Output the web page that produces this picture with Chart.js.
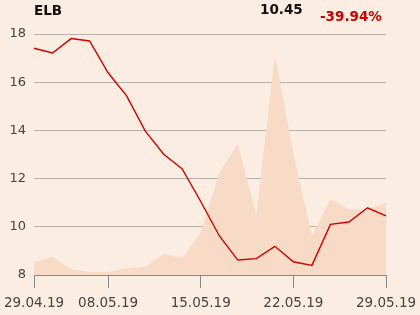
<!DOCTYPE html>
<html>
<head>
<meta charset="utf-8">
<script src="https://cdn.jsdelivr.net/npm/chart.js@4"></script>
<style>
  html, body { margin: 0; padding: 0; background: #fbede1; }
  #wrap { position: relative; width: 420px; height: 315px; }
  .hd { position: absolute; font-family: "DejaVu Sans", sans-serif; font-weight: bold; font-size: 13.5px; line-height: 14px; white-space: nowrap; }
</style>
</head>
<body>
<div id="wrap">
  <canvas id="chart" width="420" height="315"></canvas>
  <div class="hd" style="left:34px; top:3px; color:#111;">ELB</div>
  <div class="hd" style="left:260px; top:2px; color:#111;">10.45</div>
  <div class="hd" style="left:320px; top:9px; color:#cc0000;">-39.94%</div>
</div>
<script>
const dates = ['29.04.19', '30.04.19', '02.05.19', '06.05.19', '08.05.19', '09.05.19', '10.05.19',
    '13.05.19', '14.05.19', '15.05.19', '16.05.19', '17.05.19', '20.05.19', '21.05.19',
    '22.05.19', '23.05.19', '24.05.19', '27.05.19', '28.05.19', '29.05.19'];
const price = [17.41, 17.21, 17.81, 17.71, 16.39, 15.43, 13.98, 13.01, 12.40, 11.05,
    9.63, 8.62, 8.68, 9.19, 8.55, 8.40, 10.10, 10.20, 10.79, 10.45];
// background area, read in price units
const shade = [8.53, 8.76, 8.24, 8.12, 8.12, 8.28, 8.34, 8.87, 8.71, 9.77,
    12.22, 13.46, 10.49, 17.13, 13.05, 9.63, 11.14, 10.73, 10.73, 11.0];
const shownTicks = [0, 4, 9, 14, 19];
const yTicks = [8, 10, 12, 14, 16, 18];

new Chart(document.getElementById('chart'), {
    type: 'line',
    data: {
        labels: dates,
        datasets: [{
            data: price,
            borderColor: '#d00000',
            borderWidth: 1.4,
            pointRadius: 0,
            fill: false,
            tension: 0
        }, {
            data: shade,
            borderWidth: 0,
            borderColor: 'rgba(0,0,0,0)',
            backgroundColor: '#f8dbc6',
            pointRadius: 0,
            fill: 'start',
            tension: 0
        }]
    },
    options: {
        responsive: false,
        animation: false,
        events: [],
        layout: { padding: { left: 0, right: 34, top: 34, bottom: 0 } },
        plugins: { legend: { display: false }, tooltip: { enabled: false } },
        scales: {
            x: {
                afterBuildTicks: (scale) => {
                    scale.ticks = scale.ticks.filter(t => shownTicks.includes(t.value));
                },
                afterFit: (scale) => {
                    scale.height = 40;
                    scale.paddingLeft = 0;
                    scale.paddingRight = 0;
                },
                ticks: {
                    autoSkip: false,
                    maxRotation: 0,
                    padding: 7,
                    color: '#444',
                    font: { family: 'DejaVu Sans', size: 13.5 },
                    callback: (v) => dates[v]
                },
                grid: { drawOnChartArea: false, drawTicks: true, tickLength: 13, color: '#888' },
                border: { display: true, color: '#888', width: 1 }
            },
            y: {
                min: 8,
                max: 18,
                afterFit: (scale) => { scale.width = 34; },
                afterBuildTicks: (scale) => {
                    scale.ticks = yTicks.map(v => ({ value: v }));
                },
                ticks: {
                    padding: 8,
                    color: '#444',
                    font: { family: 'DejaVu Sans', size: 13 }
                },
                grid: { drawTicks: false, color: '#b3b0ad' },
                border: { display: false }
            }
        }
    }
});
</script>
</body>
</html>
